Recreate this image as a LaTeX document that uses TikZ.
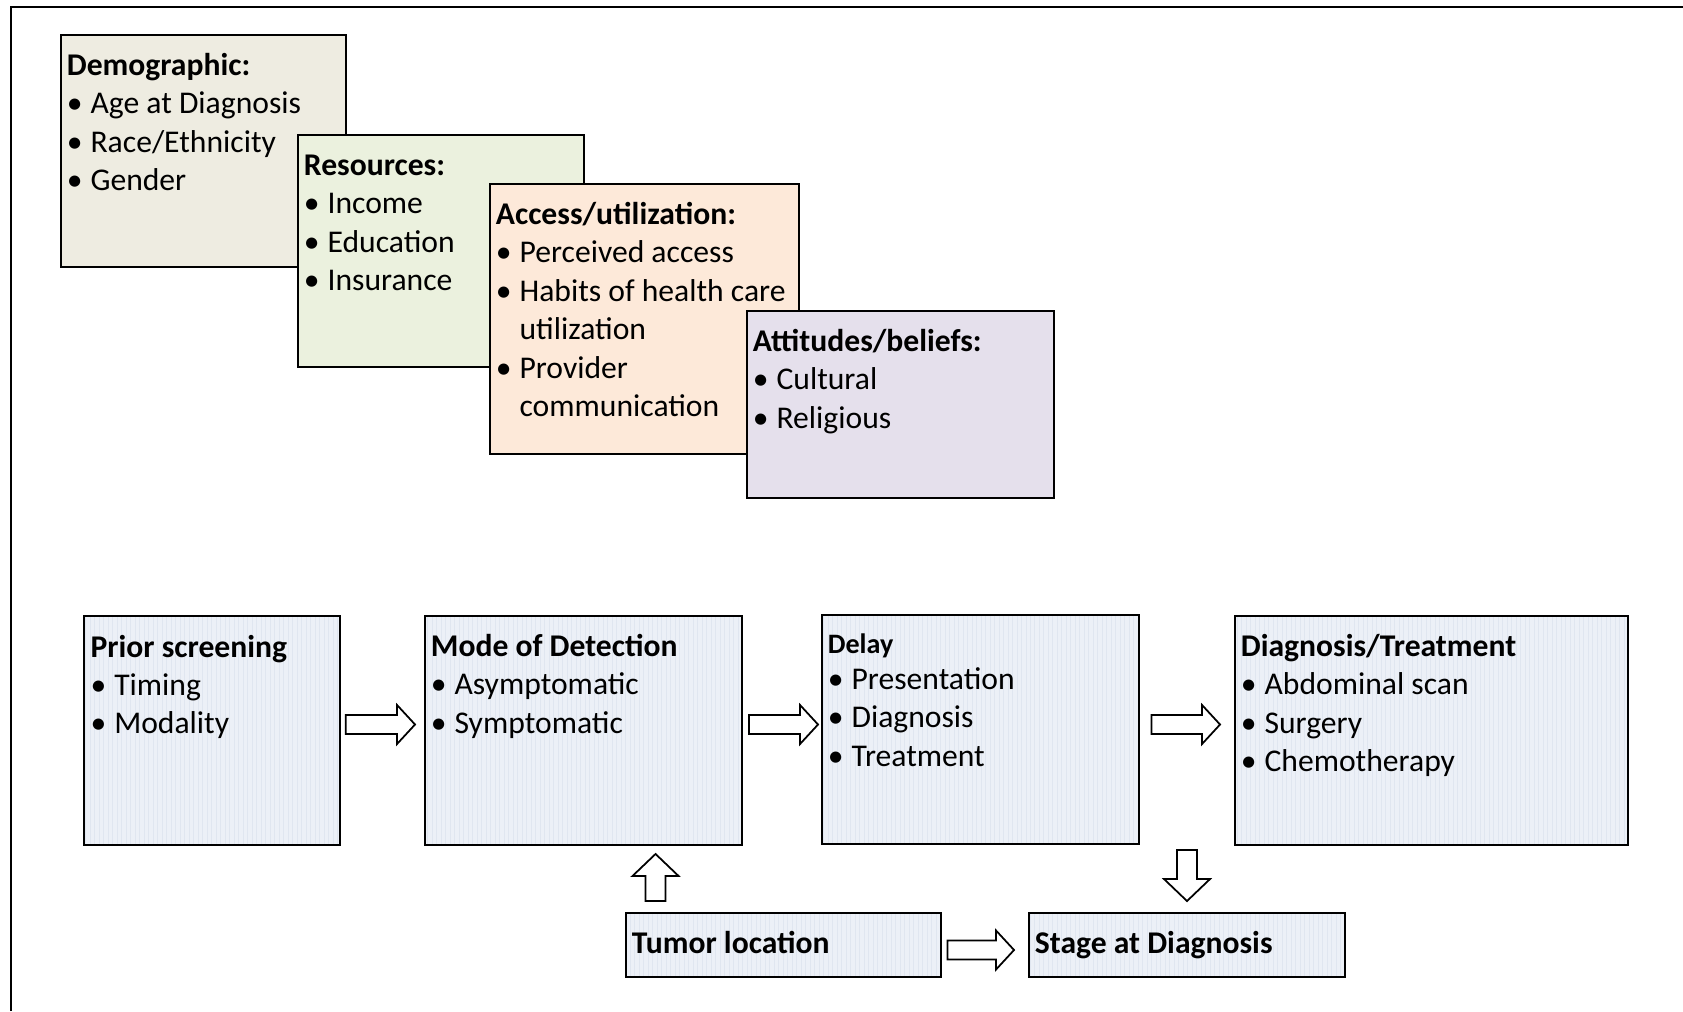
\documentclass[tikz,border=0pt]{standalone}
\usepackage{fontspec}
\setmainfont{Carlito}
\usepackage{xcolor}
\usetikzlibrary{positioning, fit, calc, patterns.meta}

\definecolor{demofill}{HTML}{EEECE1}
\definecolor{resfill}{HTML}{EBF1DE}
\definecolor{accfill}{HTML}{FDE9D9}
\definecolor{attfill}{HTML}{E5E0EC}
\definecolor{pathfill}{HTML}{ECF0F7}
\definecolor{pathline}{HTML}{E0E6F0}

\newcommand{\itm}{\makebox[13.5pt][l]{\textbullet}}
\newcommand{\cont}{\hspace*{13.5pt}}

% block arrows, tip at #2
\newcommand{\rightblock}[2]{%
  \draw[blockarrow] ($(#1)+(0,-9.5)$) -- ($(#2)+(-18,-9.5)$) -- ($(#2)+(-18,-19.5)$) -- (#2)
    -- ($(#2)+(-18,19.5)$) -- ($(#2)+(-18,9.5)$) -- ($(#1)+(0,9.5)$) -- cycle;}
\newcommand{\upblock}[2]{%
  \draw[blockarrow] ($(#1)+(-10,0)$) -- ($(#2)+(-10,22)$) -- ($(#2)+(-23,22)$) -- (#2)
    -- ($(#2)+(23,22)$) -- ($(#2)+(10,22)$) -- ($(#1)+(10,0)$) -- cycle;}
\newcommand{\downblock}[2]{%
  \draw[blockarrow] ($(#1)+(-10,0)$) -- ($(#2)+(-10,-22)$) -- ($(#2)+(-23,-22)$) -- (#2)
    -- ($(#2)+(23,-22)$) -- ($(#2)+(10,-22)$) -- ($(#1)+(10,0)$) -- cycle;}

\begin{document}
\begin{tikzpicture}[x=0.02cm, y=-0.02cm,
    factor/.style={draw, line width=1.1pt, inner sep=0pt},
    pathbox/.style={draw, line width=1.1pt, inner sep=0pt, preaction={fill=pathfill},
      pattern={Lines[angle=90, distance=0.09cm, line width=0.3pt]}, pattern color=pathline},
    txt/.style={anchor=north west, inner sep=0pt, align=left, font=\fontsize{18}{21.9}\selectfont},
    blockarrow/.style={draw, fill=white, line width=1pt, line join=miter}]
    \useasboundingbox (0,0) rectangle (1683,1011);
    % frame
    \draw[line width=1.4pt] (11,1011) -- (11,7) -- (1683,7);

    % Factor boxes (stacked)
    \node[factor, fill=demofill, fit={(61,35) (346,267)}] (demo) {};
    \node[txt] (demo-t) at ($(demo.north west)+(6.5,14)$)
      {\strut\textbf{Demographic:}\\ \itm Age at Diagnosis\\ \itm Race/Ethnicity\\ \itm Gender};

    \node[factor, fill=resfill, fit={(298,135) (584,367)}] (res) {};
    \node[txt] (res-t) at ($(res.north west)+(6.5,14)$)
      {\strut\textbf{Resources:}\\ \itm Income\\ \itm Education\\ \itm Insurance};

    \node[factor, fill=accfill, fit={(490,184) (799,454)}] (acc) {};
    \node[txt] (acc-t) at ($(acc.north west)+(6.5,14)$)
      {\strut\textbf{Access/utilization:}\\ \itm Perceived access\\ \itm Habits of health care\\
       \cont utilization\\ \itm Provider\\ \cont communication};

    \node[factor, fill=attfill, fit={(747,311) (1054,498)}] (att) {};
    \node[txt] (att-t) at ($(att.north west)+(6.5,14)$)
      {\strut\textbf{Attitudes/beliefs:}\\ \itm Cultural\\ \itm Religious};

    % Pathway boxes
    \node[pathbox, fit={(84,616) (340,845)}] (prior) {};
    \node[txt] (prior-t) at ($(prior.north west)+(6.5,14)$)
      {\strut\textbf{Prior screening}\\ \itm Timing\\ \itm Modality};

    \node[pathbox, fit={(425,616) (742,845)}] (mode) {};
    \node[txt] (mode-t) at ($(mode.north west)+(6.5,14)$)
      {\strut\textbf{Mode of Detection}\\ \itm Asymptomatic\\ \itm Symptomatic};

    \node[pathbox, fit={(822,615) (1139,844)}] (delay) {};
    \node[txt] (delay-t) at ($(delay.north west)+(6.5,15)$)
      {{\fontsize{16}{19.5}\selectfont\strut\textbf{Delay}}\\[-1.5pt] \itm Presentation\\ \itm Diagnosis\\ \itm Treatment};

    \node[pathbox, fit={(1235,616) (1628,845)}] (diagtx) {};
    \node[txt] (diagtx-t) at ($(diagtx.north west)+(6.5,14)$)
      {\strut\textbf{Diagnosis/Treatment}\\ \itm Abdominal scan\\ \itm Surgery\\ \itm Chemotherapy};

    \node[pathbox, fit={(626,913) (941,977)}] (tumor) {};
    \node[txt, anchor=base west] (tumor-t) at ($(tumor.west)+(6.5,8)$) {\textbf{Tumor location}};

    \node[pathbox, fit={(1029,913) (1345,977)}] (stage) {};
    \node[txt, anchor=base west] (stage-t) at ($(stage.west)+(6.5,8)$) {\textbf{Stage at Diagnosis}};

    % Arrows
    \coordinate (a1s) at ($(prior.east)+(5.6,-6)$);
    \coordinate (a1e) at ($(a1s -| mode.west)+(-9,0)$);
    \rightblock{a1s}{a1e}
    \coordinate (a2s) at ($(mode.east)+(6,-6)$);
    \coordinate (a2e) at ($(a2s -| delay.west)+(-3,0)$);
    \rightblock{a2s}{a2e}
    \coordinate (a3s) at ($(delay.east)+(11.5,-5)$);
    \coordinate (a3e) at ($(a3s -| diagtx.west)+(-14,0)$);
    \rightblock{a3s}{a3e}
    \coordinate (a4s) at ($(tumor.east)+(5.6,5)$);
    \coordinate (a4e) at ($(a4s -| stage.west)+(-14,0)$);
    \rightblock{a4s}{a4e}
    \coordinate (uas) at ($(tumor.north west)+(30.5,-11)$);
    \coordinate (uae) at ($(uas |- mode.south)+(0,8)$);
    \upblock{uas}{uae}
    \coordinate (das) at ($(stage.north |- diagtx.south)+(0,4)$);
    \coordinate (dae) at ($(stage.north)+(0,-11)$);
    \downblock{das}{dae}
\end{tikzpicture}
\end{document}
